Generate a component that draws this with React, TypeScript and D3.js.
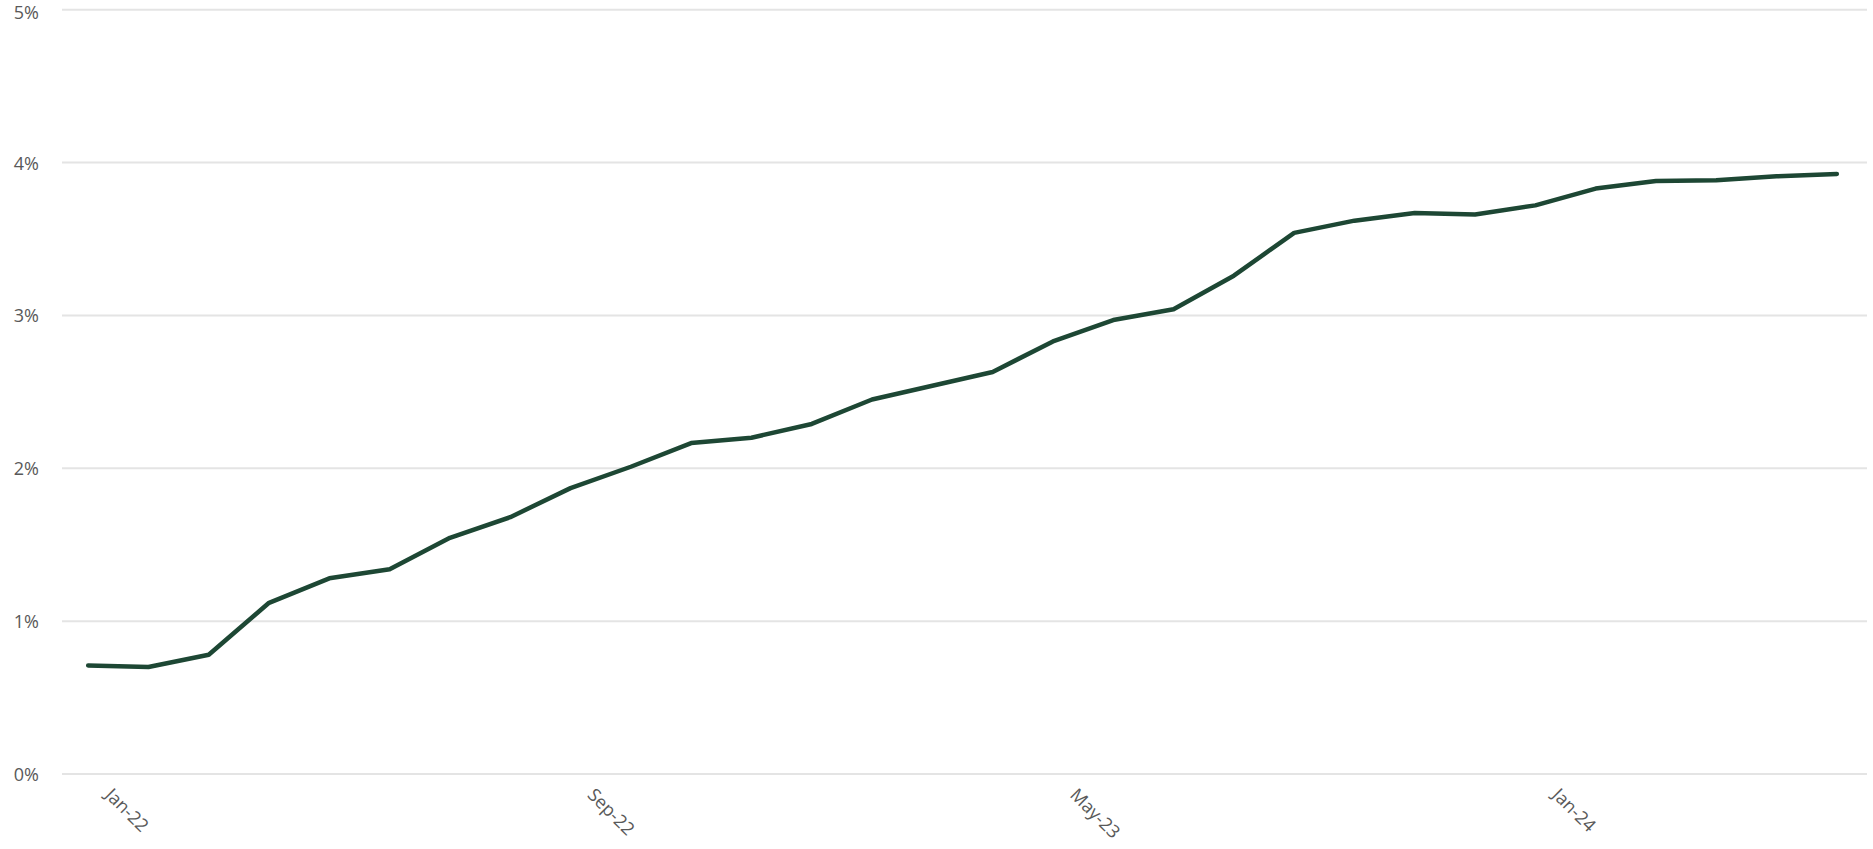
import React from "react";
import * as d3 from "d3";

// Monthly categories, Jan-22 through Jun-24
const months = [
  "Jan-22", "Feb-22", "Mar-22", "Apr-22", "May-22", "Jun-22",
  "Jul-22", "Aug-22", "Sep-22", "Oct-22", "Nov-22", "Dec-22",
  "Jan-23", "Feb-23", "Mar-23", "Apr-23", "May-23", "Jun-23",
  "Jul-23", "Aug-23", "Sep-23", "Oct-23", "Nov-23", "Dec-23",
  "Jan-24", "Feb-24", "Mar-24", "Apr-24", "May-24", "Jun-24",
];

// Rate in percent for each month
const rates = [
  0.71, 0.70, 0.78, 1.12, 1.28, 1.34,
  1.545, 1.68, 1.87, 2.01, 2.165, 2.20,
  2.29, 2.45, 2.54, 2.63, 2.83, 2.97,
  3.04, 3.26, 3.54, 3.62, 3.67, 3.66,
  3.72, 3.83, 3.88, 3.885, 3.91, 3.925,
];

// Labelled categories on the horizontal axis
const xTickLabels = ["Jan-22", "Sep-22", "May-23", "Jan-24"];

// Percent gridline values
const yTicks = [0, 1, 2, 3, 4, 5];

const W = 1873;
const H = 849;
const FONT = "'Open Sans', 'Liberation Sans', sans-serif";

export default function App() {
  const x = d3.scaleBand<string>().domain(months).range([58, 1867]);
  const cx = (m: string) => (x(m) ?? 0) + x.bandwidth() / 2;
  const y = d3.scaleLinear().domain([0, 5]).range([774, 9.7]);

  const line = d3
    .line<number>()
    .x((_, i) => cx(months[i]))
    .y((d) => y(d))
    .curve(d3.curveLinear);

  return (
    <div style={{ position: "absolute", left: 0, top: 0 }}>
      <svg width={W} height={H} style={{ display: "block", background: "#ffffff" }}>
        {yTicks.map((t) => (
          <g key={t}>
            <line
              x1={62}
              x2={1867}
              y1={y(t)}
              y2={y(t)}
              stroke="#e4e4e4"
              strokeWidth={2}
            />
            <text
              x={39}
              y={Math.max(y(t), 12)}
              textAnchor="end"
              dominantBaseline="central"
              fontFamily={FONT}
              fontSize={18}
              fill="#595959"
            >
              {`${t}%`}
            </text>
          </g>
        ))}
        {xTickLabels.map((m) => (
          <text
            key={m}
            transform={`translate(${cx(m) + 16},${796}) rotate(45)`}
            textAnchor="start"
            fontFamily={FONT}
            fontSize={18}
            fill="#595959"
          >
            {m}
          </text>
        ))}
        <path
          d={line(rates) ?? ""}
          fill="none"
          stroke="#1d4734"
          strokeWidth={4.5}
          strokeLinejoin="round"
          strokeLinecap="round"
        />
      </svg>
    </div>
  );
}
